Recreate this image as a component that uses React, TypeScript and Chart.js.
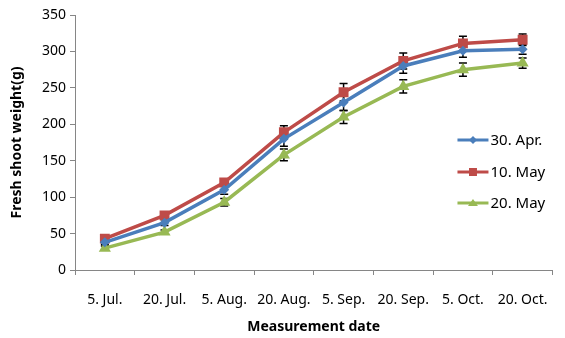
import React, { useEffect, useRef } from "react";
import { Chart, registerables } from "chart.js";

Chart.register(...registerables);

const categories = ["5. Jul.", "20. Jul.", "5. Aug.", "20. Aug.", "5. Sep.", "20. Sep.", "5. Oct.", "20. Oct."];
const seriesNames = ["30. Apr.", "10. May", "20. May"];
const apr30 = [38, 65, 110, 180, 230, 280, 301, 303];
const may10 = [43, 75, 120, 189, 244, 287, 311, 316];
const may20 = [30, 52, 93, 158, 210, 252, 275, 284];
const apr30Err = [3, 4, 6, 10, 11, 10, 9, 7];
const may10Err = [3, 3, 4, 9, 12, 11, 10, 8];
const may20Err = [3, 3, 5, 8, 9, 9, 9, 7];
const yTicks = [0, 50, 100, 150, 200, 250, 300, 350];

const COLORS = ["#4A7EBB", "#BE4B48", "#98B954"];
const STYLES = ["rectRot", "rect", "triangle"];
const RADII = [5, 7, 7];
const FONT = "'Noto Sans', 'Open Sans', sans-serif";

const errorBars = {
  id: "errorBars",
  beforeDatasetsDraw(chart: any) {
    const ctx = chart.ctx;
    const y = chart.scales.y;
    const errs = [apr30Err, may10Err, may20Err];
    ctx.save();
    ctx.strokeStyle = "#000";
    ctx.lineWidth = 1.5;
    chart.data.datasets.forEach((ds: any, i: number) => {
      const meta = chart.getDatasetMeta(i);
      meta.data.forEach((pt: any, j: number) => {
        const v = ds.data[j];
        const e = errs[i][j];
        const yt = y.getPixelForValue(v + e);
        const yb = y.getPixelForValue(v - e);
        const x = pt.x;
        ctx.beginPath();
        ctx.moveTo(x, yt);
        ctx.lineTo(x, yb);
        ctx.moveTo(x - 4, yt);
        ctx.lineTo(x + 4, yt);
        ctx.moveTo(x - 4, yb);
        ctx.lineTo(x + 4, yb);
        ctx.stroke();
      });
    });
    ctx.restore();
  },
};

const customLegend = {
  id: "customLegend",
  afterDraw(chart: any) {
    const ctx = chart.ctx;
    const area = chart.chartArea;
    const x0 = area.right - 95;
    const ys = [area.top + 125, area.top + 157, area.top + 188];
    ctx.save();
    seriesNames.forEach((name, i) => {
      const yy = ys[i];
      ctx.strokeStyle = COLORS[i];
      ctx.lineWidth = 3;
      ctx.beginPath();
      ctx.moveTo(x0, yy);
      ctx.lineTo(x0 + 31, yy);
      ctx.stroke();
      ctx.fillStyle = COLORS[i];
      const cx = x0 + 15.5;
      ctx.beginPath();
      if (i === 0) {
        ctx.moveTo(cx, yy - 4);
        ctx.lineTo(cx + 4, yy);
        ctx.lineTo(cx, yy + 4);
        ctx.lineTo(cx - 4, yy);
      } else if (i === 1) {
        ctx.rect(cx - 4, yy - 4, 8, 8);
      } else {
        ctx.moveTo(cx, yy - 4);
        ctx.lineTo(cx + 5, yy + 3);
        ctx.lineTo(cx - 5, yy + 3);
      }
      ctx.closePath();
      ctx.fill();
      ctx.fillStyle = "#000";
      ctx.font = `15px ${FONT}`;
      ctx.textBaseline = "middle";
      ctx.textAlign = "left";
      ctx.fillText(name, x0 + 33, yy + 1);
    });
    ctx.restore();
  },
};

export default function App() {
  const ref = useRef<HTMLCanvasElement>(null);
  useEffect(() => {
    if (!ref.current) return;
    const data = [apr30, may10, may20];
    const chart = new Chart(ref.current, {
      type: "line",
      data: {
        labels: categories,
        datasets: seriesNames.map((n, i) => ({
          label: n,
          data: data[i],
          borderColor: COLORS[i],
          backgroundColor: COLORS[i],
          borderWidth: 3.5,
          pointStyle: STYLES[i] as any,
          pointRadius: RADII[i],
          pointBackgroundColor: COLORS[i],
          pointBorderColor: COLORS[i],
          pointBorderWidth: 0,
          tension: 0,
        })),
      },
      options: {
        animation: false,
        responsive: false,
        maintainAspectRatio: false,
        layout: { padding: { top: 15, right: 2, left: 0, bottom: 0 } },
        plugins: {
          legend: { display: false },
          tooltip: { enabled: false },
        },
        scales: {
          x: {
            type: "category",
            offset: true,
            grid: {
              offset: true,
              drawOnChartArea: false,
              drawTicks: true,
              tickLength: 5,
              color: "#868686",
            },
            border: { color: "#868686", width: 1 },
            ticks: {
              color: "#000",
              font: { family: FONT, size: 14 },
              padding: 17,
              maxRotation: 0,
              autoSkip: false,
            },
            title: {
              display: true,
              text: "Measurement date",
              color: "#000",
              font: { family: FONT, size: 14, weight: "bold" },
              padding: { top: 2, bottom: 3 },
            },
            afterFit(scale: any) {
              scale.height = 68;
            },
          },
          y: {
            min: 0,
            max: 350,
            afterBuildTicks(scale: any) {
              scale.ticks = yTicks.map((v) => ({ value: v }));
            },
            grid: {
              drawOnChartArea: false,
              drawTicks: true,
              tickLength: 5,
              color: "#868686",
            },
            border: { color: "#868686", width: 1 },
            ticks: {
              color: "#000",
              font: { family: FONT, size: 14 },
              padding: 4,
            },
            title: {
              display: true,
              text: "Fresh shoot weight(g)",
              color: "#000",
              font: { family: FONT, size: 14, weight: "bold" },
              padding: { top: 9, bottom: 4 },
            },
            afterFit(scale: any) {
              scale.width = 75;
            },
          },
        },
      },
      plugins: [errorBars, customLegend],
    });
    return () => chart.destroy();
  }, []);
  return (
    <div style={{ position: "fixed", left: 0, top: 0, width: 565, height: 338, background: "#fff" }}>
      <canvas ref={ref} width={565} height={338} style={{ width: 565, height: 338 }} />
    </div>
  );
}
